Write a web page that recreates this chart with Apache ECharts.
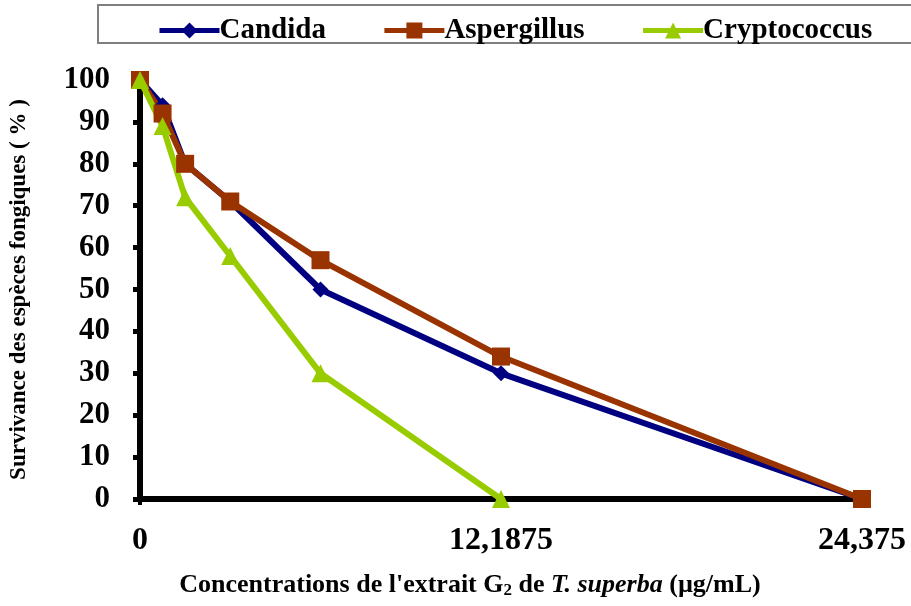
<!DOCTYPE html>
<html>
<head>
<meta charset="utf-8">
<script src="https://cdn.jsdelivr.net/npm/echarts@6/dist/echarts.min.js"></script>
<style>
  html, body { margin: 0; padding: 0; background: #fff; }
  #chart { width: 911px; height: 606px; }
</style>
</head>
<body>
<div id="chart"></div>
<script>
// concentrations (µg/mL), dilution series
const concentrations = [0, 0.76171875, 1.5234375, 3.046875, 6.09375, 12.1875, 24.375]
const candida = [100, 94, 80, 71, 50, 30, 0]
const aspergillus = [100, 92, 80, 71, 57, 34, 0]
const cryptococcus = [100, 89, 72, 58, 30, 0]
const seriesNames = ['Candida', 'Aspergillus', 'Cryptococcus']

const font = 'Liberation Serif'
const pairs = (vals) => vals.map((v, i) => [concentrations[i], v])

const chart = echarts.init(document.getElementById('chart'))
chart.setOption({
  backgroundColor: '#fff',
  animation: false,
  textStyle: { fontFamily: font },
  graphic: [
    { type: 'rect', shape: { x: 98, y: 5, width: 840, height: 38 }, style: { fill: 'none', stroke: '#7f7f7f', lineWidth: 2 } }
  ],
  legend: {
    data: seriesNames,
    left: 152,
    top: 11,
    itemWidth: 60,
    itemHeight: 20,
    itemGap: 56,
    lineStyle: { width: 5 },
    textStyle: { fontFamily: font, fontWeight: 'bold', fontSize: 29, color: '#000', padding: [0, 0, 0, -5] }
  },
  grid: { left: 140, right: 49, top: 80, bottom: 107 },
  xAxis: {
    type: 'value',
    min: 0,
    max: 24.375,
    interval: 12.1875,
    splitLine: { show: false },
    axisLine: { lineStyle: { color: '#000', width: 6 } },
    axisTick: { show: true, length: 6, lineStyle: { color: '#000', width: 4 } },
    axisLabel: {
      margin: 26,
      fontFamily: font, fontWeight: 'bold', fontSize: 32, color: '#000',
      formatter: (v) => String(v).replace('.', ',')
    },
    name: '{a|Concentrations de l\'extrait G}{s|2}{a| de }{i|T. superba}{a| (µg/mL)}',
    nameLocation: 'middle',
    nameGap: 73,
    nameTextStyle: {
      padding: [0, 62, 0, 0],
      rich: {
        a: { fontFamily: font, fontWeight: 'bold', fontSize: 26, color: '#000' },
        s: { fontFamily: font, fontWeight: 'bold', fontSize: 17, color: '#000', verticalAlign: 'bottom', padding: [10, 0, 0, 0] },
        i: { fontFamily: font, fontWeight: 'bold', fontStyle: 'italic', fontSize: 26, color: '#000' }
      }
    }
  },
  yAxis: {
    type: 'value',
    min: 0,
    max: 100,
    interval: 10,
    splitLine: { show: false },
    axisLine: { show: true, lineStyle: { color: '#000', width: 6 } },
    axisTick: { show: true, length: 7, lineStyle: { color: '#000', width: 5 } },
    axisLabel: { margin: 30, fontFamily: font, fontWeight: 'bold', fontSize: 31, color: '#000' },
    name: 'Survivance des espèces fongiques ( % )',
    nameLocation: 'middle',
    nameGap: 109,
    nameTextStyle: { fontFamily: font, fontWeight: 'bold', fontSize: 23, color: '#000' }
  },
  series: [
    {
      name: 'Candida', type: 'line', data: pairs(candida),
      symbol: 'diamond', symbolSize: 16,
      itemStyle: { color: '#000080' },
      lineStyle: { color: '#000080', width: 6 }
    },
    {
      name: 'Aspergillus', type: 'line', data: pairs(aspergillus),
      symbol: 'rect', symbolSize: 18,
      itemStyle: { color: '#993300' },
      lineStyle: { color: '#993300', width: 6 }
    },
    {
      name: 'Cryptococcus', type: 'line', data: pairs(cryptococcus),
      symbol: 'triangle', symbolSize: 18,
      itemStyle: { color: '#99cc00' },
      lineStyle: { color: '#99cc00', width: 6 }
    }
  ]
})
</script>
</body>
</html>
